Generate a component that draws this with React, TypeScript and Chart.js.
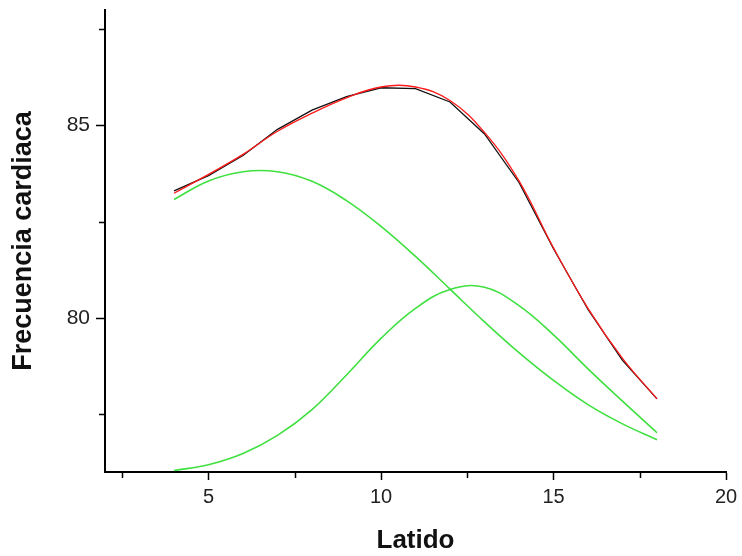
import React, { useEffect, useRef } from "react";
import { Chart, registerables } from "chart.js";

Chart.register(...registerables);

// Latido (beat index)
const latidos = [4, 5, 6, 7, 8, 9, 10, 11, 12, 13, 14, 15, 16, 17, 18];
// Measured heart rate (black)
const datos = [83.3, 83.7, 84.22, 84.9, 85.4, 85.75, 85.98, 85.96, 85.61, 84.78, 83.52, 81.8, 80.22, 78.9, 77.9];
// Fitted curve (red)
const ajuste = [83.24, 83.73, 84.25, 84.85, 85.32, 85.72, 86.0, 86.0, 85.65, 84.82, 83.56, 81.82, 80.25, 78.95, 77.9];
// First component (green, early peak)
const pico1 = [83.08, 83.56, 83.8, 83.8, 83.55, 83.05, 82.38, 81.6, 80.75, 79.9, 79.1, 78.38, 77.75, 77.25, 76.84];
// Second component (green, late peak)
const pico2 = [76.04, 76.19, 76.48, 76.95, 77.62, 78.52, 79.47, 80.25, 80.74, 80.8, 80.32, 79.56, 78.68, 77.84, 77.02];

const xMin = 2;
const xMax = 20;
const yMin = 76;
const yMax = 88;
const tickStep = 2.5;
const majorStep = 5;

const FONT = "'Liberation Sans', Arial, Helvetica, sans-serif";

const toPoints = (ys: number[]) => latidos.map((x, i) => ({ x, y: ys[i] }));

const minorTicksPlugin = {
  id: "minorTicks",
  afterDraw(chart: any) {
    const ctx = chart.ctx;
    const xs = chart.scales.x;
    const ys = chart.scales.y;
    ctx.save();
    ctx.strokeStyle = "#000";
    ctx.lineWidth = 1.5;
    xs.ticks.forEach((t: any) => {
      if (Math.abs(t.value % majorStep) > 1e-6) {
        const px = Math.round(xs.getPixelForValue(t.value)) + 0.5;
        ctx.beginPath();
        ctx.moveTo(px, xs.top);
        ctx.lineTo(px, xs.top + 6);
        ctx.stroke();
      }
    });
    ys.ticks.forEach((t: any) => {
      if (Math.abs(t.value % majorStep) > 1e-6) {
        const py = Math.round(ys.getPixelForValue(t.value)) + 0.5;
        ctx.beginPath();
        ctx.moveTo(ys.right, py);
        ctx.lineTo(ys.right - 6, py);
        ctx.stroke();
      }
    });
    ctx.restore();
  },
};

function ChartView() {
  const ref = useRef<HTMLCanvasElement | null>(null);

  useEffect(() => {
    if (!ref.current) return;
    const isMajor = (v: number) => Math.abs(v % majorStep) < 1e-6;
    const chart = new Chart(ref.current, {
      type: "line",
      data: {
        datasets: [
          {
            label: "Ajuste",
            data: toPoints(ajuste),
            borderColor: "#ff1a1a",
            borderWidth: 1.3,
            pointRadius: 0,
            tension: 0.4,
            fill: false,
          },
          {
            label: "Datos",
            data: toPoints(datos),
            borderColor: "#111",
            borderWidth: 1.3,
            pointRadius: 0,
            tension: 0,
            fill: false,
          },
          {
            label: "Pico 1",
            data: toPoints(pico1),
            borderColor: "#3fe03f",
            borderWidth: 1.6,
            pointRadius: 0,
            tension: 0.4,
            fill: false,
          },
          {
            label: "Pico 2",
            data: toPoints(pico2),
            borderColor: "#3fe03f",
            borderWidth: 1.6,
            pointRadius: 0,
            tension: 0.4,
            fill: false,
          },
        ],
      },
      options: {
        animation: false,
        responsive: false,
        devicePixelRatio: 1,
        layout: { padding: { left: 0, top: 10, right: 16, bottom: 0 } },
        plugins: { legend: { display: false }, tooltip: { enabled: false } },
        scales: {
          x: {
            type: "linear",
            min: xMin,
            max: xMax,
            afterFit: (s: any) => {
              s.height = 84;
              s.paddingLeft = 0;
              s.paddingRight = 0;
            },
            border: { display: true, color: "#000", width: 2 },
            grid: {
              display: true,
              drawOnChartArea: false,
              drawTicks: true,
              tickLength: 8,
              tickWidth: 1.5,
              tickColor: (c: any) => (c.tick && isMajor(c.tick.value) ? "#000" : "rgba(0,0,0,0)"),
            },
            ticks: {
              stepSize: tickStep,
              includeBounds: false,
              autoSkip: false,
              maxRotation: 0,
              padding: 5,
              color: "#222",
              font: { family: FONT, size: 20 },
              callback: (v: any) => (isMajor(Number(v)) ? String(v) : ""),
            },
            title: {
              display: true,
              text: "Latido",
              color: "#111",
              font: { family: FONT, size: 26, weight: "bold" },
              padding: { top: 0, bottom: 0 },
            },
          },
          y: {
            type: "linear",
            min: yMin,
            max: yMax,
            afterFit: (s: any) => {
              s.width = 105;
              s.paddingTop = 0;
              s.paddingBottom = 0;
            },
            border: { display: true, color: "#000", width: 2 },
            grid: {
              display: true,
              drawOnChartArea: false,
              drawTicks: true,
              tickLength: 9,
              tickWidth: 1.5,
              tickColor: (c: any) => (c.tick && isMajor(c.tick.value) ? "#000" : "rgba(0,0,0,0)"),
            },
            ticks: {
              stepSize: tickStep,
              includeBounds: false,
              autoSkip: false,
              padding: 6,
              color: "#222",
              font: { family: FONT, size: 21 },
              callback: (v: any) => (isMajor(Number(v)) ? String(v) : ""),
            },
            title: {
              display: true,
              text: "Frecuencia cardiaca",
              color: "#111",
              font: { family: FONT, size: 27, weight: "bold" },
              padding: { top: 7, bottom: 0 },
            },
          },
        },
      },
      plugins: [minorTicksPlugin],
    } as any);
    return () => chart.destroy();
  }, []);

  return <canvas ref={ref} width={742} height={556} style={{ display: "block" }} />;
}

export default function App() {
  return (
    <div style={{ position: "absolute", left: 0, top: 0, width: 742, height: 556, background: "#fff" }}>
      <ChartView />
    </div>
  );
}
